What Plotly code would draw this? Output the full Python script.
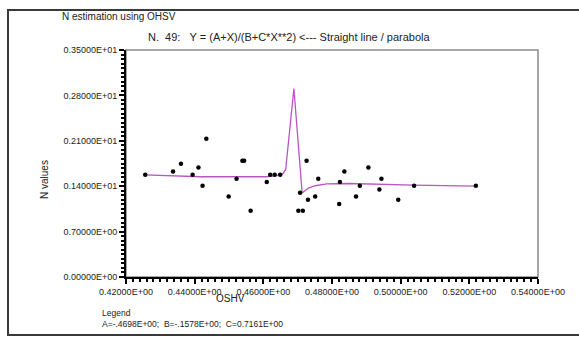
import plotly.graph_objects as go

# Observed data points (OSHV, N values)
pts_x = [0.4256, 0.4337, 0.4360, 0.4394, 0.4411, 0.4423, 0.4434, 0.4499, 0.4522, 0.4539,
         0.4544, 0.4563, 0.4610, 0.4620, 0.4633, 0.4649, 0.4702, 0.4715, 0.4707, 0.4726,
         0.4730, 0.4751, 0.4760, 0.4821, 0.4823, 0.4836, 0.4870, 0.4881, 0.4906, 0.4938,
         0.4944, 0.4993, 0.5039, 0.5219]
pts_y = [1.576, 1.627, 1.746, 1.576, 1.690, 1.407, 2.133, 1.241, 1.515, 1.793,
         1.793, 1.020, 1.464, 1.576, 1.576, 1.576, 1.020, 1.020, 1.298, 1.793,
         1.190, 1.241, 1.515, 1.124, 1.464, 1.627, 1.241, 1.407, 1.690, 1.349,
         1.515, 1.190, 1.407, 1.407]

# Fitted curve vertices
fit_x = [0.4256, 0.4319, 0.4416, 0.4610, 0.4654, 0.4665, 0.4689, 0.4713, 0.4731,
         0.4751, 0.4785, 0.4852, 0.4920, 0.5037, 0.5219]
fit_y = [1.576, 1.561, 1.546, 1.546, 1.576, 1.654, 2.906, 1.294, 1.371,
         1.407, 1.437, 1.442, 1.437, 1.417, 1.402]

x_tickvals = [0.42, 0.44, 0.46, 0.48, 0.50, 0.52, 0.54]
x_ticktext = ["0.42000E+00", "0.44000E+00", "0.46000E+00", "0.48000E+00",
              "0.50000E+00", "0.52000E+00", "0.54000E+00"]
y_tickvals = [0.0, 0.7, 1.4, 2.1, 2.8, 3.5]
y_ticktext = ["0.00000E+00", "0.70000E+00", "0.14000E+01", "0.21000E+01",
              "0.28000E+01", "0.35000E+01"]

title_text = "N estimation using OHSV"
subtitle_text = "N.&nbsp;&nbsp;49:&nbsp;&nbsp;&nbsp;Y = (A+X)/(B+C*X**2) &lt;--- Straight line / parabola"
legend_title = "Legend"
legend_text = "A=-.4698E+00;&nbsp;&nbsp;B=-.1578E+00;&nbsp;&nbsp;C=0.7161E+00"

FONT = "Liberation Sans, Arial, sans-serif"

fig = go.Figure()
fig.add_trace(go.Scatter(x=fit_x, y=fit_y, mode="lines",
                         line=dict(color="#bb55c4", width=1.3), hoverinfo="skip"))
fig.add_trace(go.Scatter(x=pts_x, y=pts_y, mode="markers",
                         marker=dict(color="black", size=4.5)))

L, T, W, H = 126, 50, 412, 227
def px(x):
    return (x - L) / W
def py(y):
    return (T + H - y) / H

fig.update_layout(
    width=579, height=338,
    margin=dict(l=L, r=579 - L - W, t=T, b=338 - T - H, pad=0),
    paper_bgcolor="white", plot_bgcolor="white",
    showlegend=False,
    font=dict(family=FONT, size=9, color="#222"),
    xaxis=dict(range=[0.42, 0.54], tickvals=x_tickvals, ticktext=x_ticktext,
               showgrid=False, zeroline=False, showline=True, linecolor="black",
               linewidth=2, ticks="outside", ticklen=5, tickcolor="black", tickwidth=1.5,
               tickfont=dict(size=9, family=FONT), automargin=False,
               minor=dict(dtick=0.002, ticks="outside", ticklen=3, tickcolor="black",
                          showgrid=False)),
    yaxis=dict(range=[0, 3.5], tickvals=y_tickvals, ticktext=y_ticktext,
               showgrid=False, zeroline=False, showline=True, linecolor="black",
               linewidth=2, ticks="outside", ticklen=5, tickcolor="black", tickwidth=1.5,
               tickfont=dict(size=9, family=FONT), automargin=False,
               minor=dict(dtick=0.07, ticks="outside", ticklen=3, tickcolor="black",
                          showgrid=False)),
)

# plot box (top/right in gray)
fig.add_shape(type="rect", xref="paper", yref="paper", x0=0, y0=0, x1=1, y1=1,
              line=dict(color="#8a8a8a", width=1.5), layer="below")
# outer frame
fig.add_shape(type="rect", xref="paper", yref="paper",
              x0=px(8), y0=py(335), x1=px(590), y1=py(10),
              line=dict(color="#3a3a3a", width=2))

def ann(text, x, y, size, xanchor="left", angle=0):
    fig.add_annotation(text=text, xref="paper", yref="paper", x=px(x), y=py(y),
                       xanchor=xanchor, yanchor="middle", showarrow=False,
                       textangle=angle, font=dict(size=size, family=FONT, color="#222"))

ann(title_text, 60, 17, 10)
ann(subtitle_text, 146, 37, 11)
ann("N values", 44, 180, 10, xanchor="center", angle=-90)
ann("OSHV", 230, 298, 10, xanchor="center")
ann(legend_title, 100, 313, 8.5)
ann(legend_text, 100, 324, 8.5)

fig.write_html("out.html", config={"displayModeBar": False},
               post_script="document.body.style.margin='0';document.body.style.overflow='hidden';")
